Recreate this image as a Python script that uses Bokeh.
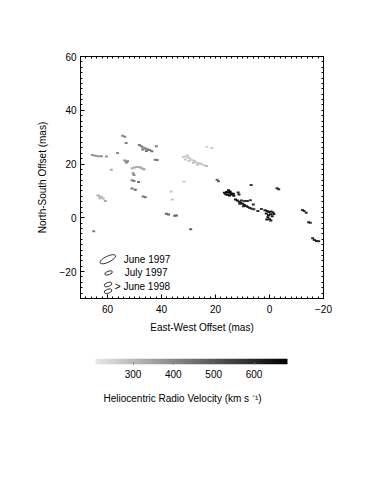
import numpy as np
from bokeh.plotting import figure
from bokeh.layouts import column
from bokeh.models import (Range1d, LinearAxis, FixedTicker, LinearColorMapper, ColumnDataSource, Title)
from bokeh.core.properties import value
from bokeh.embed import file_html
from bokeh.resources import INLINE

# ---------------- data ----------------
spot_x = [65.1,
          65.6, 64.5, 63.4, 62.3, 60.4,
          58.6, 54.4, 53.6, 53.1, 56.3, 53.6, 53.0, 52.6,
          48.2, 47.5, 46.8, 46.0, 45.2, 44.4, 43.6, 47.0, 45.6,
          41.9, 42.3, 41.6,
          50.9, 50.0, 49.0, 48.0, 47.3, 46.5,
          50.5, 50.2, 50.9, 50.2, 48.5, 50.9, 49.7, 46.8, 46.0,
          63.6, 63.0, 62.3, 61.6, 62.8, 60.8,
          38.2, 37.4, 35.1, 34.5, 29.2,
          31.7, 36.4, 36.0,
          31.8, 30.9, 30.1, 29.4, 28.6, 27.8, 27.0, 26.1, 25.2, 24.3, 23.4, 31.2, 29.8, 28.2, 26.6, 30.4,
          23.2, 21.4, 19.4, 18.9,
          6.8, -2.8, -3.4,
          16.7, 15.9, 15.1, 14.3, 15.6, 14.8, 14.0, 13.4, 15.2, 16.2, 13.2, 14.6,
          11.6, 11.3,
          12.6, 11.9, 11.2, 10.6, 9.9, 9.3, 8.6, 8.0, 7.3, 6.5, 5.8, 11.0, 9.6, 10.4, 9.2, 8.2, 7.1, 6.0, 3.0, 4.3,
          1.7, 0.9, 0.2, -0.6, -1.3, 1.2, 0.4, -0.4, -1.0, 0.6, 0.0, -0.5, 1.0, -1.6,
          -12.2, -12.8, -13.6, -14.5, -15.1, -16.0, -16.6, -17.4, -18.2]
spot_y = [-5.0,
          23.4, 23.1, 22.9, 22.9, 22.8,
          17.9, 30.5, 30.2, 27.8, 24.1, 21.3, 20.6, 21.0,
          27.1, 26.6, 26.2, 25.8, 25.5, 25.2, 24.8, 25.4, 24.9,
          26.6, 21.6, 21.5,
          18.4, 18.7, 18.9, 18.8, 18.4, 18.1,
          16.6, 15.9, 14.0, 13.7, 13.3, 10.9, 10.4, 7.9, 7.7,
          8.4, 8.0, 7.8, 7.2, 7.3, 6.3,
          1.5, 1.2, 0.8, 0.9, -4.2,
          13.4, 9.8, 6.8,
          22.6, 22.9, 22.4, 22.0, 21.5, 21.1, 20.6, 20.3, 20.0, 19.6, 19.3, 21.7, 21.1, 20.5, 19.7, 23.2,
          26.4, 26.0, 14.2, 13.6,
          12.2, 11.0, 10.6,
          9.3, 9.6, 9.4, 9.1, 8.6, 8.3, 8.7, 9.0, 10.3, 8.8, 8.2, 9.8,
          9.4, 8.7,
          6.8, 6.4, 6.0, 5.6, 5.2, 4.8, 4.4, 4.0, 3.7, 3.4, 3.2, 5.2, 4.3, 6.4, 6.3, 6.3, 6.5, 5.0, 3.3, 2.5,
          2.8, 2.5, 2.2, 2.4, 2.0, 1.6, 1.0, 1.3, 0.6, 0.2, -0.5, -1.0, -0.6, 1.4,
          2.9, 2.5, 1.9, -1.6, -1.8, -7.6, -8.2, -8.6, -8.7]
spot_v = [430,
          380, 390, 380, 400, 370,
          330, 400, 410, 420, 390, 400, 420, 410,
          420, 430, 410, 440, 420, 430, 450, 420, 440,
          420, 440, 430,
          330, 340, 330, 350, 340, 360,
          380, 390, 420, 430, 440, 450, 460, 440, 450,
          300, 310, 300, 320, 310, 330,
          470, 480, 470, 480, 490,
          260, 270, 280,
          270, 260, 280, 270, 260, 280, 270, 290, 280, 270, 300, 280, 270, 290, 280, 260,
          250, 260, 470, 480,
          560, 580, 590,
          650, 660, 670, 680, 670, 680, 670, 660, 640, 660, 650, 670,
          600, 610,
          640, 640, 630, 630, 620, 610, 600, 600, 590, 590, 580, 620, 610, 590, 580, 570, 560, 590, 560, 580,
          620, 630, 640, 630, 620, 640, 650, 640, 630, 640, 630, 620, 630, 610,
          570, 580, 580, 590, 590, 600, 600, 610, 600]

beam_labels = ["June 1997", "July 1997", "> June 1998"]
beam_x = [59.9, 59.6, 59.8, 59.8]
beam_y = [-15.4, -20.5, -24.8, -27.3]
beam_w = [17, 8, 8, 8]
beam_h = [6, 3.5, 4, 4]
beam_angle = [0.45, 0.35, 0.35, 0.35]
label_x = [54.0, 53.6, 57.3]
label_y = [-15.4, -20.3, -25.7]

x_labelled = [-20, 0, 20, 40, 60]
y_labelled = [-20, 0, 20, 40, 60]
minor = list(range(-30, 72, 2))

vel_low, vel_high = 207, 683
cbar_ticks = [300, 400, 500, 600]

FONT = "Liberation Sans"

palette = ["#%02x%02x%02x" % (g, g, g) for g in np.linspace(232, 0, 256).astype(int)]
mapper = LinearColorMapper(palette=palette, low=vel_low, high=vel_high)

# ---------------- main figure ----------------
p = figure(width=343, height=340, x_range=Range1d(70, -20), y_range=Range1d(-30, 60),
           output_backend="svg", toolbar_location=None, x_axis_location=None, y_axis_location=None,
           min_border_left=80, min_border_top=56, min_border_right=20, min_border_bottom=42)
p.grid.visible = False
p.outline_line_color = "black"
p.border_fill_color = "white"

def make_axis(ticks):
    ax = LinearAxis(ticker=FixedTicker(ticks=ticks, minor_ticks=minor))
    ax.major_tick_in = 4
    ax.major_tick_out = 0
    ax.minor_tick_in = 2
    ax.minor_tick_out = 0
    ax.axis_line_color = "black"
    ax.major_tick_line_color = "black"
    ax.minor_tick_line_color = "black"
    ax.major_label_text_font = FONT
    ax.major_label_text_font_size = "10px"
    ax.major_label_text_color = "black"
    ax.axis_label_text_font = FONT
    ax.axis_label_text_font_size = "10px"
    ax.axis_label_text_font_style = "normal"
    ax.axis_label_text_color = "black"
    return ax

xb = make_axis(x_labelled)
xb.axis_label = "East-West Offset (mas)"
xb.major_label_standoff = 6
xb.axis_label_standoff = 6
p.add_layout(xb, "below")

yl = make_axis(y_labelled)
yl.axis_label = "North-South Offset (mas)"
yl.major_label_standoff = 4
yl.axis_label_standoff = 9
p.add_layout(yl, "left")

for side in ("above", "right"):
    ax = make_axis([])
    ax.major_tick_line_color = None
    p.add_layout(ax, side)

spots = ColumnDataSource(data=dict(x=spot_x, y=spot_y, v=spot_v))
p.rect(x="x", y="y", width=3, height=2, width_units="screen", height_units="screen",
       fill_color={"field": "v", "transform": mapper}, line_color=None, source=spots)

p.ellipse(x=beam_x, y=beam_y, width=beam_w, height=beam_h, angle=beam_angle,
          width_units="screen", height_units="screen",
          fill_color=None, line_color="black", line_width=0.8)

p.text(x=label_x, y=label_y, text=beam_labels, text_font=value(FONT), text_font_size="10px",
       text_baseline="middle", text_align="left", text_color="black")

# ---------------- colour bar ----------------
# frame shares the main plot's left/right borders; the bar spans vel_low..vel_high (px 95..287)
px_per_unit = 192.0 / (vel_high - vel_low)
cb_lo = vel_low - 15 / px_per_unit
cb_hi = vel_high + 36 / px_per_unit
p2 = figure(width=343, height=84, x_range=Range1d(cb_lo, cb_hi), y_range=Range1d(0, 1),
            output_backend="svg", toolbar_location=None, x_axis_location=None, y_axis_location=None,
            min_border_left=80, min_border_top=18, min_border_right=20, min_border_bottom=60)
p2.grid.visible = False
p2.outline_line_color = None
p2.border_fill_color = "white"
grad = np.linspace(vel_low, vel_high, 256).reshape(1, 256)
p2.image(image=[grad], x=vel_low, y=0, dw=vel_high - vel_low, dh=1, color_mapper=mapper)

cax = LinearAxis(ticker=FixedTicker(ticks=cbar_ticks))
cax.axis_line_color = None
cax.major_tick_in = 2
cax.major_tick_out = 0
cax.major_tick_line_color = "#777777"
cax.minor_tick_line_color = None
cax.major_label_standoff = 5
cax.major_label_text_font = FONT
cax.major_label_text_font_size = "10px"
cax.major_label_text_color = "black"
p2.add_layout(cax, "below")

ttl = Title(text="Heliocentric Radio Velocity (km s \u207b\u00b9)", align="left", offset=23,
            text_font=FONT, text_font_size="10px", text_font_style="normal", text_color="black",
            standoff=20)
p2.add_layout(ttl, "below")

layout = column(p, p2)
open("out.html", "w").write(file_html(layout, INLINE))
